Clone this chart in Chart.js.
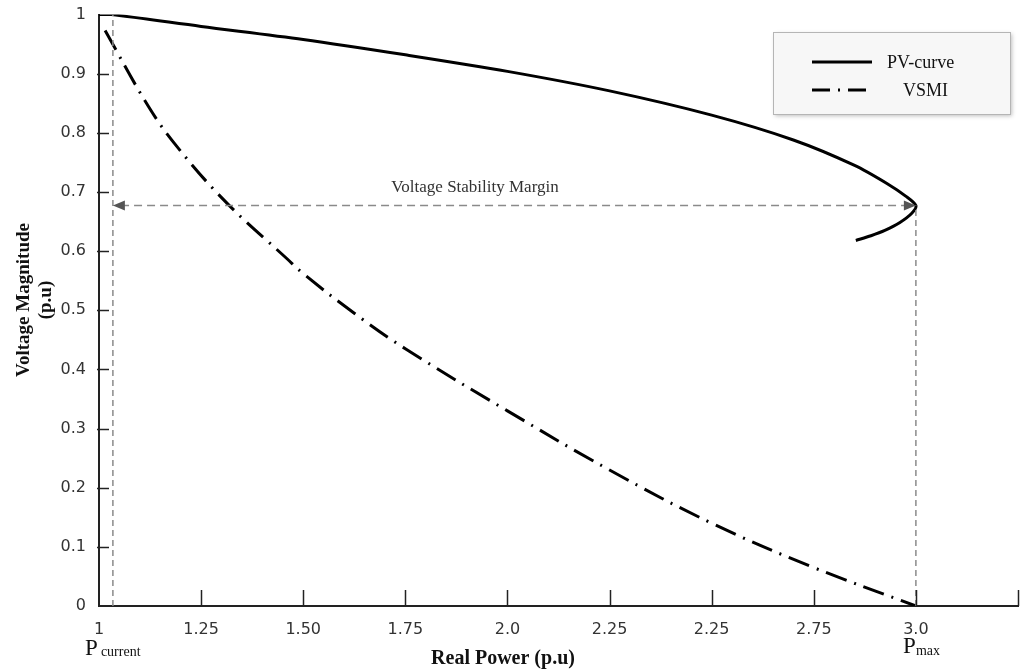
<!DOCTYPE html>
<html>
<head>
<meta charset="utf-8">
<script src="https://cdn.jsdelivr.net/npm/chart.js@4.4.1/dist/chart.umd.min.js"></script>
<style>
  html, body { margin: 0; padding: 0; background: #fff; }
  #wrap { width: 1024px; height: 671px; position: relative; }
</style>
</head>
<body>
<div id="wrap"><canvas id="chart"></canvas></div>
<script>
// PV curve, nose point at P = 3.0
const pvP = [1.0, 1.03, 1.25, 1.5, 1.75, 2.0, 2.25, 2.5, 2.7, 2.85, 2.93, 2.975, 3.0, 2.99, 2.96, 2.924, 2.89, 2.853]
const pvV = [1.0, 1.0, 0.98, 0.958, 0.932, 0.904, 0.871, 0.83, 0.788, 0.745, 0.714, 0.693, 0.677, 0.664, 0.648, 0.635, 0.626, 0.618]

// VSMI curve
const vsmiP = [1.015, 1.12, 1.193, 1.315, 1.459, 1.5, 1.625, 1.75, 2.0, 2.25, 2.5, 2.75, 3.0]
const vsmiV = [0.973, 0.846, 0.775, 0.68, 0.588, 0.562, 0.495, 0.435, 0.33, 0.23, 0.14, 0.065, 0.0]

// tick labels (the duplicate 2.25 is in the original figure)
const xTickLabels = ['1', '1.25', '1.50', '1.75', '2.0', '2.25', '2.25', '2.75', '3.0', '']
const yTickLabels = ['0', '0.1', '0.2', '0.3', '0.4', '0.5', '0.6', '0.7', '0.8', '0.9', '1']

// annotation values
const pCurrent = 1.034
const pMax = 3.0
const marginV = 0.677

const serif = '"Liberation Serif", "Times New Roman", serif'
const sans = '"DejaVu Sans", Verdana, sans-serif'

const toPoints = (xs, ys) => xs.map((x, i) => ({ x: x, y: ys[i] }))

// tick marks drawn inside the plot, legend box and text labels
const decorations = {
  id: 'decorations',
  afterDraw(chart) {
    const ctx = chart.ctx
    const xs = chart.scales.x
    const ys = chart.scales.y
    const area = chart.chartArea

    ctx.save()
    // x ticks pointing up
    ctx.strokeStyle = '#222'
    ctx.lineWidth = 1.5
    xs.ticks.forEach((t, i) => {
      if (i === 0) return
      const px = Math.round(xs.getPixelForValue(t.value)) + 0.5
      ctx.beginPath()
      ctx.moveTo(px, area.bottom)
      ctx.lineTo(px, area.bottom - 16)
      ctx.stroke()
    })
    // y ticks
    ys.ticks.forEach((t, i) => {
      if (t.value === 0 || t.value === 1) return
      const py = Math.round(ys.getPixelForValue(t.value)) + 0.5
      ctx.beginPath()
      ctx.moveTo(area.left - 2, py)
      ctx.lineTo(area.left + 10, py)
      ctx.stroke()
    })

    // arrow heads of the stability margin
    const ay = ys.getPixelForValue(marginV)
    const ax1 = xs.getPixelForValue(pCurrent)
    const ax2 = xs.getPixelForValue(pMax)
    ctx.fillStyle = '#555'
    ctx.beginPath()
    ctx.moveTo(ax1, ay)
    ctx.lineTo(ax1 + 12, ay - 5)
    ctx.lineTo(ax1 + 12, ay + 5)
    ctx.closePath()
    ctx.fill()
    ctx.beginPath()
    ctx.moveTo(ax2, ay)
    ctx.lineTo(ax2 - 12, ay - 5)
    ctx.lineTo(ax2 - 12, ay + 5)
    ctx.closePath()
    ctx.fill()

    // margin label
    ctx.fillStyle = '#333'
    ctx.font = '17px ' + serif
    ctx.textAlign = 'center'
    ctx.textBaseline = 'alphabetic'
    ctx.fillText('Voltage Stability Margin', 475, 192)

    // P_current and P_max
    ctx.fillStyle = '#111'
    ctx.textAlign = 'left'
    const pcx = xs.getPixelForValue(pCurrent)
    ctx.font = '23px ' + serif
    ctx.fillText('P', pcx - 28, 655)
    ctx.font = '14px ' + serif
    ctx.fillText('current', pcx - 12, 656)
    const pmx = xs.getPixelForValue(pMax)
    ctx.font = '23px ' + serif
    ctx.fillText('P', pmx - 13, 653)
    ctx.font = '14px ' + serif
    ctx.fillText('max', pmx, 655)

    // axis titles
    ctx.fillStyle = '#111'
    ctx.font = 'bold 20px ' + serif
    ctx.textAlign = 'center'
    ctx.fillText('Real Power (p.u)', 503, 664)
    ctx.save()
    ctx.translate(29, 300)
    ctx.rotate(-Math.PI / 2)
    ctx.font = 'bold 19px ' + serif
    ctx.fillText('Voltage Magnitude', 0, 0)
    ctx.fillText('(p.u)', 0, 22)
    ctx.restore()

    // legend box
    ctx.save()
    ctx.shadowColor = 'rgba(0,0,0,0.25)'
    ctx.shadowBlur = 4
    ctx.shadowOffsetX = 2
    ctx.shadowOffsetY = 2
    ctx.fillStyle = '#f7f7f7'
    ctx.fillRect(773, 32, 237, 82)
    ctx.restore()
    ctx.strokeStyle = '#b5b5b5'
    ctx.lineWidth = 1
    ctx.strokeRect(773.5, 32.5, 237, 82)

    ctx.strokeStyle = '#000'
    ctx.lineWidth = 3
    ctx.beginPath()
    ctx.moveTo(812, 62)
    ctx.lineTo(872, 62)
    ctx.stroke()
    ctx.setLineDash([18, 8, 2, 8])
    ctx.beginPath()
    ctx.moveTo(812, 90)
    ctx.lineTo(872, 90)
    ctx.stroke()
    ctx.setLineDash([])

    ctx.fillStyle = '#111'
    ctx.font = '18px ' + serif
    ctx.textAlign = 'left'
    ctx.textBaseline = 'middle'
    ctx.fillText('PV-curve', 887, 63)
    ctx.fillText('VSMI', 903, 91)
    ctx.restore()
  }
}

const ctx = document.getElementById('chart').getContext('2d')
new Chart(ctx, {
  type: 'scatter',
  data: {
    datasets: [
      {
        label: 'P current',
        data: toPoints([pCurrent, pCurrent], [0, 1]),
        showLine: true,
        borderColor: '#8a8a8a',
        borderWidth: 1.5,
        borderDash: [6, 4],
        pointRadius: 0,
      },
      {
        label: 'P max',
        data: toPoints([pMax, pMax], [0, marginV]),
        showLine: true,
        borderColor: '#8a8a8a',
        borderWidth: 1.5,
        borderDash: [6, 4],
        pointRadius: 0,
      },
      {
        label: 'Margin',
        data: toPoints([pCurrent + 0.02, pMax - 0.02], [marginV, marginV]),
        showLine: true,
        borderColor: '#8a8a8a',
        borderWidth: 1.5,
        borderDash: [8, 5],
        pointRadius: 0,
      },
      {
        label: 'VSMI',
        data: toPoints(vsmiP, vsmiV),
        showLine: true,
        borderColor: '#000',
        borderWidth: 3,
        borderDash: [22, 8, 2, 8],
        pointRadius: 0,
        tension: 0.4,
      },
      {
        label: 'PV-curve',
        data: toPoints(pvP, pvV),
        showLine: true,
        borderColor: '#000',
        borderWidth: 3,
        pointRadius: 0,
        tension: 0.3,
      },
    ],
  },
  options: {
    responsive: true,
    maintainAspectRatio: false,
    animation: false,
    layout: {
      padding: { top: 14, right: 5, left: 0, bottom: 0 },
    },
    scales: {
      x: {
        type: 'linear',
        min: 1,
        max: 3.25,
        afterFit: scale => { scale.height = 65 },
        grid: { display: false },
        border: { display: true, color: '#222', width: 2 },
        ticks: {
          stepSize: 0.25,
          autoSkip: false,
          maxRotation: 0,
          padding: 6,
          color: '#333',
          font: { family: sans, size: 16 },
          callback: (value, index) => xTickLabels[index],
        },
      },
      y: {
        min: 0,
        max: 1,
        afterFit: scale => { scale.width = 99 },
        grid: { display: false },
        border: { display: true, color: '#222', width: 2 },
        ticks: {
          stepSize: 0.1,
          padding: 5,
          color: '#333',
          font: { family: sans, size: 16 },
          callback: (value, index) => yTickLabels[index],
        },
      },
    },
    plugins: {
      legend: { display: false },
      tooltip: { enabled: false },
    },
  },
  plugins: [decorations],
})
</script>
</body>
</html>
